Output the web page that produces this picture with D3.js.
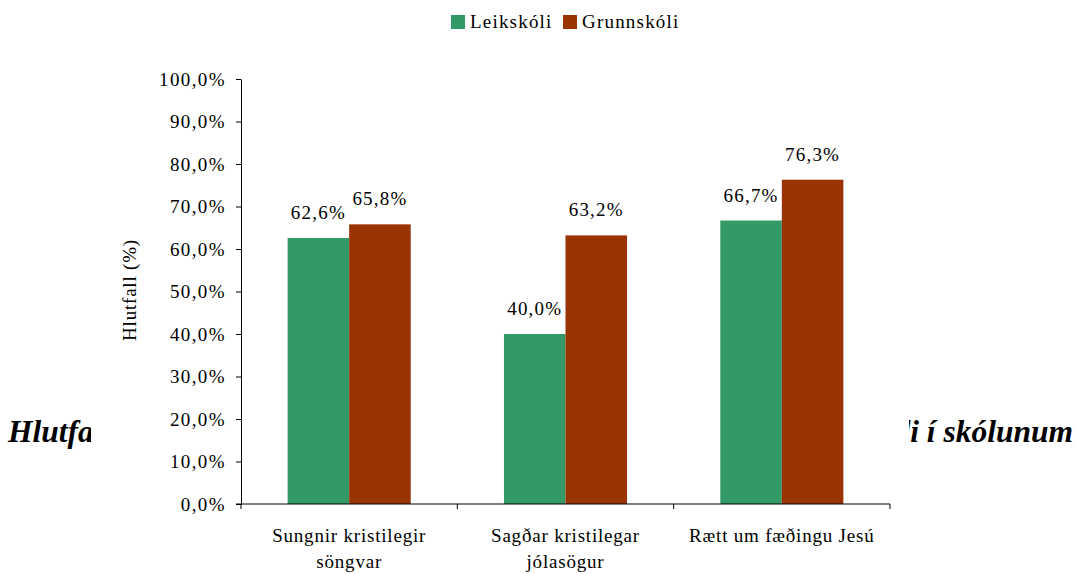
<!DOCTYPE html>
<html>
<head>
<meta charset="utf-8">
<script src="https://cdn.jsdelivr.net/npm/d3@7"></script>
</head>
<body style="margin:0; background:#fff">
<div id="chart"></div>
<script>
const categories = [
    ["Sungnir kristilegir", "söngvar"],
    ["Sagðar kristilegar", "jólasögur"],
    ["Rætt um fæðingu Jesú"]
];
const seriesNames = ["Leikskóli", "Grunnskóli"];
const leikskoli = [62.6, 40.0, 66.7];
const grunnskoli = [65.8, 63.2, 76.3];
const yTicks = [0, 10, 20, 30, 40, 50, 60, 70, 80, 90, 100];
// the title is hidden behind the chart area; only its two ends show
const titleStart = "Hlutfall";
const titleEnd = "jólahaldi í skólunum";
const yLabel = "Hlutfall (%)";

const colors = { "Leikskóli": "#339966", "Grunnskóli": "#993300" };
const FONT = "Liberation Serif";

const W = 1077, H = 574;
const plot = { left: 241, right: 890, top: 79, bottom: 504 };

const svg = d3.select("#chart").append("svg")
    .attr("width", W)
    .attr("height", H)
    .style("font-family", FONT);

function txt(sel) {
    return sel.append("text").style("font-family", FONT).attr("fill", "#000");
}

const titleStyle = s => s.style("font-size", "31.5px")
    .style("font-weight", "bold")
    .style("font-style", "italic");

titleStyle(txt(svg).attr("x", 8).attr("y", 442)).text(titleStart);
titleStyle(txt(svg).attr("x", 1073).attr("y", 442).attr("text-anchor", "end")).text(titleEnd);

// white chart area covering the middle of the title
svg.append("rect")
    .attr("x", 91).attr("y", 40)
    .attr("width", 818).attr("height", H - 40)
    .attr("fill", "#fff");

const keys = categories.map((c, i) => i);
const x = d3.scaleBand().domain(keys).range([plot.left, plot.right]).padding(0);
const xInner = d3.scaleBand().domain(seriesNames).range([0, x.bandwidth()])
    .paddingInner(0).paddingOuter(0.758);
const y = d3.scaleLinear().domain([0, 100]).range([plot.bottom, plot.top]);

const rows = keys.map(i => ({ i, "Leikskóli": leikskoli[i], "Grunnskóli": grunnskoli[i] }));
const fmt = v => d3.format(".1f")(v).replace(".", ",") + "%";

// y axis
const yAxis = svg.append("g")
    .attr("transform", `translate(${plot.left},0)`)
    .call(d3.axisLeft(y).tickValues(yTicks).tickSize(5).tickPadding(10)
        .tickFormat(d => fmt(d)).tickSizeOuter(0));
yAxis.attr("font-family", null).attr("font-size", null);
yAxis.selectAll("text")
    .style("font-family", FONT)
    .style("font-size", "19px")
    .style("letter-spacing", "1.4px")
    .attr("fill", "#000");
yAxis.selectAll("line, path").attr("stroke", "#000");

// bars
const groups = svg.append("g").selectAll("g")
    .data(rows)
    .join("g")
    .attr("transform", d => `translate(${x(d.i)},0)`);

groups.selectAll("rect")
    .data(d => seriesNames.map(s => ({ s, v: d[s] })))
    .join("rect")
    .attr("x", d => xInner(d.s))
    .attr("y", d => y(d.v))
    .attr("width", xInner.bandwidth())
    .attr("height", d => y(0) - y(d.v))
    .attr("fill", d => colors[d.s]);

groups.selectAll("text.val")
    .data(d => seriesNames.map(s => ({ s, v: d[s] })))
    .join("text")
    .attr("class", "val")
    .attr("x", d => xInner(d.s) + xInner.bandwidth() / 2)
    .attr("y", d => y(d.v) - 19)
    .attr("text-anchor", "middle")
    .style("font-family", FONT)
    .style("font-size", "19px")
    .style("letter-spacing", "1.2px")
    .text(d => fmt(d.v));

// x axis
const xAxisG = svg.append("g").attr("transform", `translate(0,${plot.bottom})`);
xAxisG.append("line")
    .attr("x1", plot.left - 5).attr("x2", plot.right)
    .attr("stroke", "#000");
const bounds = keys.map(k => x(k)).concat([plot.right]);
xAxisG.selectAll("line.tick")
    .data(bounds)
    .join("line")
    .attr("class", "tick")
    .attr("x1", d => d).attr("x2", d => d)
    .attr("y1", 0).attr("y2", 5)
    .attr("stroke", "#000");

const catLabels = svg.append("g").selectAll("text")
    .data(keys)
    .join("text")
    .attr("x", k => x(k) + x.bandwidth() / 2)
    .attr("y", 542)
    .attr("text-anchor", "middle")
    .style("font-family", FONT)
    .style("font-size", "19px")
    .style("letter-spacing", "0.8px");
catLabels.selectAll("tspan")
    .data(k => categories[k])
    .join("tspan")
    .attr("x", function() { return d3.select(this.parentNode).attr("x"); })
    .attr("dy", (d, i) => i === 0 ? 0 : 26)
    .text(d => d);

// y label
txt(svg)
    .attr("transform", "translate(136,290) rotate(-90)")
    .attr("text-anchor", "middle")
    .style("font-size", "19px")
    .style("letter-spacing", "0.8px")
    .text(yLabel);

// legend
const legend = svg.append("g");
const legendPos = [451, 563];
seriesNames.forEach((s, i) => {
    legend.append("rect")
        .attr("x", legendPos[i]).attr("y", 15)
        .attr("width", 14).attr("height", 14)
        .attr("fill", colors[s]);
    txt(legend)
        .attr("x", legendPos[i] + 19).attr("y", 28)
        .style("font-size", "19px")
        .style("letter-spacing", "1.2px")
        .text(s);
});
</script>
</body>
</html>
